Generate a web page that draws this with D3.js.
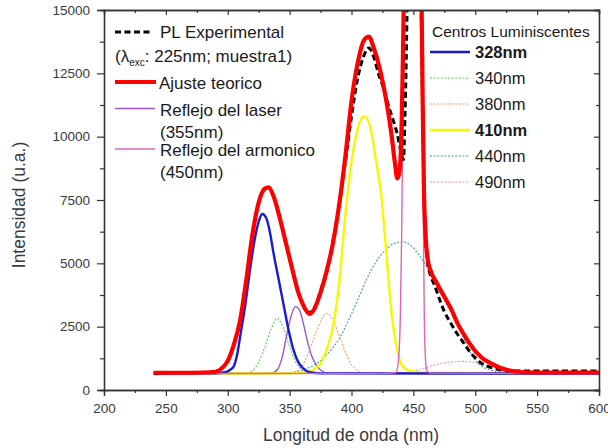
<!DOCTYPE html>
<html>
<head>
<meta charset="utf-8">
<script src="https://cdn.jsdelivr.net/npm/d3@7"></script>
<style>
  body { margin: 0; background: #fff; }
  svg { display: block; }
  text { font-family: "Liberation Sans", Arial, sans-serif; }
</style>
</head>
<body>
<script>
// Axis ticks
const wavelengthTicks = [200, 250, 300, 350, 400, 450, 500, 550, 600];
const wavelengthMinor = [225, 275, 325, 375, 425, 475, 525, 575];
const intensityTicks = [0, 2500, 5000, 7500, 10000, 12500, 15000];
const intensityMinor = [1250, 3750, 6250, 8750, 11250, 13750];

// Measured photoluminescence spectrum [nm, u.a.]
const plExperimental = [
  [241, 640], [260, 690], [280, 690], [290, 720], [295, 850], [300, 1150], [305, 1800],
  [310, 2750], [315, 4350], [320, 6150], [325, 7400], [330, 7950], [333, 8000], [337, 7650],
  [342, 6800], [347, 5800], [352, 4800], [357, 3850], [362, 3250], [366, 3050], [370, 3250],
  [375, 3900], [380, 4750], [385, 5850], [390, 7300], [395, 9000], [400, 10800], [405, 12300],
  [410, 13200], [414, 13500], [418, 13150], [422, 12450], [426, 11900], [430, 11200],
  [434, 10600], [437, 10100], [440, 9400], [442, 9100], [443.2, 10800], [444.2, 13000],
  [445.2, 16000], [450, 40000], [456, 16000], [457.5, 11000], [459, 7200], [461, 5200],
  [464, 4500], [467, 4150], [471, 3600], [475, 3100], [480, 2650], [485, 2250], [490, 1900],
  [495, 1550], [499, 1320], [505, 1060], [512, 900], [520, 800], [526, 760], [540, 750],
  [570, 750], [600, 750]
];

// Fitted spectrum (sum of bands)
const ajusteTeorico = [
  [240, 680], [260, 680], [280, 690], [290, 720], [295, 850], [300, 1150], [305, 1800],
  [310, 2750], [315, 4350], [320, 6150], [325, 7400], [330, 7950], [333, 8000], [337, 7650],
  [342, 6800], [347, 5800], [352, 4800], [357, 3850], [362, 3250], [366, 3000], [370, 3200],
  [375, 3850], [380, 4700], [385, 5800], [390, 7300], [395, 9200], [400, 11400], [405, 12900],
  [410, 13800], [414, 13950], [418, 13500], [423, 12650], [428, 11450], [432, 10200],
  [435, 9000], [437, 8350], [439, 8700], [440.5, 10500], [441.5, 13000], [442.5, 16000],
  [450, 40000], [456.5, 16000], [457.5, 11500], [458.5, 8000], [460, 6000], [461.5, 5200],
  [464, 4700], [468, 4300], [472, 3950], [476, 3600], [480, 3250], [486, 2600], [492, 2100],
  [499, 1600], [506, 1250], [513, 1050], [520, 880], [526, 790], [533, 730], [540, 700],
  [560, 690], [600, 690]
];

// Laser reflection (355 nm)
const reflejoLaser = [
  [240, 650], [335, 660], [340, 800], [344, 1300], [347, 2000], [350, 2700], [354.7, 3290],
  [358, 3150], [361, 2650], [364, 2000], [368, 1320], [372, 950], [376, 750], [382, 660],
  [600, 650]
];

// Harmonic reflection (450 nm)
const reflejoArmonico = [
  [240, 650], [425, 655], [433, 670], [436, 700], [438, 1200], [439.5, 3000], [440.5, 6000],
  [441.3, 10000], [442, 15500], [445, 30000], [450, 45000], [454, 30000], [457, 15500],
  [457.6, 10000], [458.2, 6000], [458.8, 3000], [459.8, 1200], [461, 750], [464, 665],
  [600, 650]
];

// Luminescent centres
const centro328 = [
  [240, 650], [290, 655], [298, 700], [302, 800], [305, 950], [308, 1500], [310, 2100],
  [314, 3300], [318, 4750], [322, 6000], [325, 6650], [328, 6950], [331, 6800], [334, 6250],
  [337, 5400], [341, 4400], [345, 3400], [349, 2400], [353, 1600], [357, 1100], [361, 850],
  [366, 700], [375, 655], [600, 650]
];
const centro340 = [
  [240, 650], [315, 660], [320, 760], [325, 1100], [330, 1700], [335, 2400], [340, 2830],
  [345, 2450], [350, 1700], [355, 1100], [360, 780], [366, 670], [600, 650]
];
const centro380 = [
  [240, 650], [350, 660], [356, 760], [360, 950], [365, 1450], [370, 2100], [375, 2700],
  [380, 3030], [385, 2750], [390, 2150], [395, 1500], [400, 1000], [405, 760], [410, 670],
  [600, 660]
];
const centro410 = [
  [240, 650], [350, 655], [365, 720], [372, 900], [375, 1050], [380, 1600], [385, 2500],
  [390, 4200], [395, 6900], [400, 9000], [405, 10300], [410.5, 10800], [415, 10400],
  [420, 9000], [424, 7700], [428, 5500], [432, 3200], [436, 1800], [440, 1050], [445, 800],
  [452, 720], [461, 680], [600, 650]
];
const centro440 = [
  [240, 650], [340, 660], [355, 720], [365, 870], [372, 1050], [380, 1400], [391, 2100],
  [398, 2800], [405, 3550], [412, 4350], [419, 5000], [426, 5450], [433, 5750], [441, 5850],
  [448, 5700], [455, 5300], [461, 4850], [467, 4300], [472, 3800], [479, 3200], [486, 2550],
  [492, 1900], [499, 1250], [506, 920], [512, 790], [518, 720], [530, 670], [600, 660]
];
const centro490 = [
  [240, 650], [420, 655], [440, 680], [450, 750], [460, 880], [470, 1020], [480, 1100],
  [490, 1130], [500, 1080], [510, 960], [520, 830], [530, 740], [540, 690], [560, 660],
  [600, 655]
];

const centrosTitle = "Centros Luminiscentes";
const centrosLabels = ["328nm", "340nm", "380nm", "410nm", "440nm", "490nm"];

const W = 608, H = 448;
const plot = { left: 104, right: 599, top: 10, bottom: 390 };

const svg = d3.select("body").append("svg").attr("width", W).attr("height", H);

const x = d3.scaleLinear().domain([200, 600]).range([plot.left, plot.right]);
const y = d3.scaleLinear().domain([0, 15000]).range([plot.bottom, plot.top]);

svg.append("defs").append("clipPath").attr("id", "plotClip")
  .append("rect")
  .attr("x", plot.left).attr("y", plot.top)
  .attr("width", plot.right - plot.left).attr("height", plot.bottom - plot.top);

const line = d3.line().x(d => x(d[0])).y(d => y(d[1])).curve(d3.curveMonotoneX);

// Band styles
const dotted = "2,1.6";
const bandStyles = [
  { data: centro490, color: "#ea8fe0", width: 1.1, dash: dotted },
  { data: centro440, color: "#3f9aa4", width: 1.1, dash: dotted },
  { data: centro340, color: "#55d055", width: 1.1, dash: dotted },
  { data: reflejoLaser, color: "#9b55d6", width: 1.4, dash: null },
  { data: centro380, color: "#f0a060", width: 1.1, dash: dotted },
  { data: centro410, color: "#f7f700", width: 2.4, dash: null },
  { data: centro328, color: "#1a1ad2", width: 2.4, dash: null },
  { data: reflejoArmonico, color: "#dd66b4", width: 1.4, dash: null },
  { data: plExperimental, color: "#000", width: 3, dash: "6,3.5" },
  { data: ajusteTeorico, color: "#ff0000", width: 4.2, dash: null }
];

const curves = svg.append("g").attr("clip-path", "url(#plotClip)");
bandStyles.forEach(s => {
  curves.append("path")
    .datum(s.data)
    .attr("d", line)
    .attr("fill", "none")
    .attr("stroke", s.color)
    .attr("stroke-width", s.width)
    .attr("stroke-dasharray", s.dash)
    .attr("stroke-linejoin", "round");
});

// Axes
const axisColor = "#333";
function styleAxis(g) {
  g.select(".domain").attr("stroke", axisColor).attr("stroke-width", 1.3);
  g.selectAll(".tick line").attr("stroke", axisColor).attr("stroke-width", 1.2);
  g.selectAll(".tick text").attr("fill", "#3a3a3a").attr("font-size", 13.5)
    .attr("font-family", "'Liberation Sans', Arial, sans-serif");
}

svg.append("g").attr("transform", `translate(0,${plot.bottom})`)
  .call(d3.axisBottom(x).tickValues(wavelengthTicks).tickSize(6).tickPadding(7).tickFormat(d3.format("d")))
  .call(styleAxis);
svg.append("g").attr("transform", `translate(0,${plot.bottom})`)
  .call(d3.axisBottom(x).tickValues(wavelengthMinor).tickSize(3).tickFormat(""))
  .call(styleAxis);

svg.append("g").attr("transform", `translate(${plot.left},0)`)
  .call(d3.axisLeft(y).tickValues(intensityTicks).tickSize(7).tickPadding(7).tickFormat(d3.format("d")))
  .call(styleAxis);
svg.append("g").attr("transform", `translate(${plot.left},0)`)
  .call(d3.axisLeft(y).tickValues(intensityMinor).tickSize(4).tickFormat(""))
  .call(styleAxis);

// Mirror axes with inward ticks
svg.append("g").attr("transform", `translate(0,${plot.top})`)
  .call(d3.axisTop(x).tickValues(wavelengthTicks).tickSize(-5).tickFormat(""))
  .call(styleAxis);
svg.append("g").attr("transform", `translate(0,${plot.top})`)
  .call(d3.axisTop(x).tickValues(wavelengthMinor).tickSize(-3).tickFormat(""))
  .call(styleAxis);
svg.append("g").attr("transform", `translate(${plot.right},0)`)
  .call(d3.axisRight(y).tickValues(intensityTicks).tickSize(-5).tickFormat(""))
  .call(styleAxis);
svg.append("g").attr("transform", `translate(${plot.right},0)`)
  .call(d3.axisRight(y).tickValues(intensityMinor).tickSize(-3).tickFormat(""))
  .call(styleAxis);

// Axis titles
svg.append("text")
  .attr("x", 351).attr("y", 441)
  .attr("text-anchor", "middle").attr("font-size", 17.5).attr("fill", "#3a3a3a")
  .text("Longitud de onda (nm)");
svg.append("text")
  .attr("transform", `translate(25,205) rotate(-90)`)
  .attr("text-anchor", "middle").attr("font-size", 17.5).attr("fill", "#3a3a3a")
  .text("Intensidad (u.a.)");

// Left legend
const legL = svg.append("g");
const fs = 17;
function legLine(g, y0, color, width, dash, x0, x1) {
  g.append("line").attr("x1", x0).attr("x2", x1).attr("y1", y0).attr("y2", y0)
    .attr("stroke", color).attr("stroke-width", width).attr("stroke-dasharray", dash);
}
function legText(g, xx, yy, txt, size, weight) {
  return g.append("text").attr("x", xx).attr("y", yy).attr("font-size", size)
    .attr("fill", "#1a1a1a").attr("font-weight", weight || "normal").text(txt);
}
legLine(legL, 32, "#000", 3, "6,3.5", 115, 152);
legText(legL, 160, 38, "PL Experimental", fs);
const lam = legL.append("text").attr("x", 115).attr("y", 61.5).attr("font-size", fs).attr("fill", "#1a1a1a");
lam.append("tspan").text("(λ");
lam.append("tspan").attr("font-size", 10).attr("dy", 4).text("exc");
lam.append("tspan").attr("dy", -4).text(": 225nm; muestra1)");
legLine(legL, 82, "#ff0000", 4.2, null, 115, 156);
legText(legL, 159, 88.5, "Ajuste teorico", fs);
legLine(legL, 108.5, "#9b55d6", 1.4, null, 115, 155);
legText(legL, 160, 116, "Reflejo del laser", fs);
legText(legL, 160, 137.5, "(355nm)", fs);
legLine(legL, 149, "#dd66b4", 1.4, null, 115, 155);
legText(legL, 160, 156, "Reflejo del armonico", fs);
legText(legL, 160, 177.5, "(450nm)", fs);

// Right legend (luminescent centres)
const legR = svg.append("g");
legText(legR, 432, 37, centrosTitle, 15.5);
const centroStyles = [bandStyles[6], bandStyles[2], bandStyles[4], bandStyles[5], bandStyles[1], bandStyles[0]];
const boldLabels = [true, false, false, true, false, false];
centrosLabels.forEach((lab, i) => {
  const yy = 52 + i * 26;
  const s = centroStyles[i];
  legLine(legR, yy, s.color, s.width, s.dash, 430, 470);
  legText(legR, 475, yy + 6, lab, 16.5, boldLabels[i] ? "bold" : "normal");
});
</script>
</body>
</html>
